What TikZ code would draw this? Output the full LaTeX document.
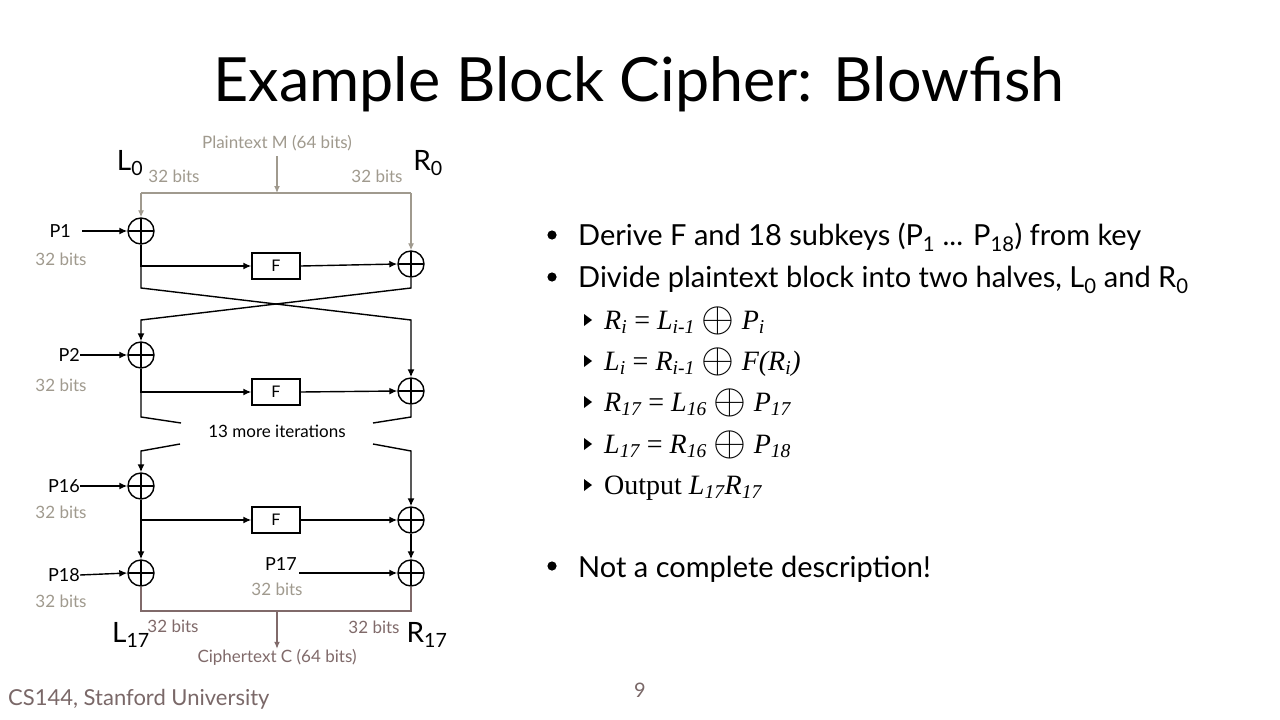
\documentclass[tikz,border=0pt]{standalone}
\usepackage{graphicx}
\usepackage{fontspec}
\setmainfont{Lato}
\newfontfamily\tms{Liberation Serif}
\usetikzlibrary{arrows.meta}
\definecolor{graytxt}{HTML}{A09A8E}
\definecolor{mauve}{HTML}{806A6A}
\definecolor{foot}{HTML}{7A6868}
\newcommand{\xsub}[1]{\textsubscript{#1}}
\newcommand{\opl}{\raisebox{-0.1em}{\scalebox{1.7}{$\oplus$}}}
\begin{document}
\begin{tikzpicture}[x=1pt,y=-1pt,
  every node/.style={inner sep=0pt},
  wire/.style={line width=1.4pt,black},
  arr/.style={wire,-{Latex[length=8pt,width=7pt]}},
  gwire/.style={line width=1.2pt,graytxt},
  garr/.style={gwire,-{Latex[length=7pt,width=6pt]}},
  mwire/.style={line width=1.2pt,mauve},
  marr/.style={mwire,-{Latex[length=7pt,width=6pt]}},
  xorc/.style={circle,draw,line width=1.4pt,minimum size=26pt,
    path picture={\draw[line width=1.4pt]
      (path picture bounding box.north) -- (path picture bounding box.south)
      (path picture bounding box.west) -- (path picture bounding box.east);}},
  fbox/.style={draw,line width=1.4pt,minimum width=48pt,minimum height=26pt,font=\fontsize{16}{16}\selectfont},
  key/.style={font=\fontsize{18}{18}\selectfont},
  bits/.style={font=\fontsize{17}{17}\selectfont,text=graytxt},
  mbits/.style={font=\fontsize{17}{17}\selectfont,text=mauve},
  half/.style={font=\fontsize{28}{28}\selectfont},
  bul/.style={anchor=base west,font=\fontsize{29}{29}\selectfont},
  sub/.style={anchor=base west,font=\tms\fontsize{28}{28}\selectfont},
]
\useasboundingbox (0,0) rectangle (1280,720);
\fill[white] (0,0) rectangle (1280,720);

% title
\node[font=\fontsize{61}{61}\selectfont] (title) at (639,84) {Example Block Cipher: Blowfish};

% ---------- round structure ----------
\node[xorc] (xl1) at (141,231) {};
\node[xorc] (xr1) at (411,264) {};
\node[fbox] (f1) at (276,266) {F};
\node[xorc] (xl2) at (141,355) {};
\node[xorc] (xr2) at (411,391) {};
\node[fbox] (f2) at (276,392) {F};
\node[xorc] (xl3) at (141,486) {};
\node[xorc] (xr3) at (411,520) {};
\node[fbox] (f3) at (276,520) {F};
\node[xorc] (xl4) at (141,573) {};
\node[xorc] (xr4) at (411,573) {};

% subkeys
\node[key,anchor=east] (p1) at (71,231) {P1};
\node[bits] (b1) at (61,259) {32 bits};
\node[key,anchor=east] (p2) at (80,355) {P2};
\node[bits] (b2) at (61,385) {32 bits};
\node[key,anchor=east] (p16) at (80,486) {P16};
\node[bits] (b16) at (61,512) {32 bits};
\node[key,anchor=east] (p18) at (80,575) {P18};
\node[bits] (b18) at (61,601) {32 bits};
\node[key,anchor=east] (p17) at (297,564) {P17};
\node[bits] (b17) at (277,589) {32 bits};

\draw[arr] (82,231) -- (xl1.west);
\draw[arr] (p2.east) -- (xl2.west);
\draw[arr] (p16.east) -- (xl3.west);
\draw[arr] (p18.east) -- (xl4.west);
\draw[arr] (299,573) -- (xr4.west);

% plaintext input
\node[font=\fontsize{17}{17}\selectfont,text=graytxt] (pt) at (277,143) {Plaintext M (64 bits)};
\node[half] (l0) at (130,163) {L\xsub{0}};
\node[half] (r0) at (428,163) {R\xsub{0}};
\node[bits] (bl0) at (174,176) {32 bits};
\node[bits] (br0) at (377,176) {32 bits};
\coordinate (split) at (277,193);
\draw[garr] (pt.south) ++(0,5) -- (split);
\draw[gwire] (141,193) -- (411,193);
\draw[garr] (141,193) -- (xl1.north);
\draw[garr] (411,193) -- (xr1.north);

% round 1
\draw[arr] (xl1.south) |- (f1.west);
\draw[arr] (f1.east) -- (xr1.west);
\coordinate (c1l) at (141,288);
\coordinate (c1r) at (411,288);
\coordinate (c2l) at (141,320);
\coordinate (c2r) at (411,320);
\draw[arr] (xl1.south) -- (c1l) -- (c2r) -- (xr2.north);
\draw[arr] (xr1.south) -- (c1r) -- (c2l) -- (xl2.north);

% round 2
\draw[arr] (xl2.south) |- (f2.west);
\draw[arr] (f2.east) -- (xr2.west);
\coordinate (d1l) at (181,423);
\coordinate (d1r) at (373,423);
\draw[wire] (xl2.south) -- (141,417) -- (d1l);
\draw[wire] (xr2.south) -- (411,417) -- (d1r);
\node[font=\fontsize{17}{17}\selectfont] (more) at (277,431) {13 more iterations};
\coordinate (d2l) at (180,444);
\coordinate (d2r) at (373,444);
\draw[arr] (d2l) -- (141,451) -- (xl3.north);
\draw[arr] (d2r) -- (411,451) -- (xr3.north);

% round 16
\draw[arr] (xl3.south) |- (f3.west);
\draw[arr] (f3.east) -- (xr3.west);
\draw[arr] (xl3.south) -- (xl4.north);
\draw[arr] (xr3.south) -- (xr4.north);

% ciphertext output
\coordinate (join) at (277,611);
\draw[mwire] (xl4.south) -- (141,611) -- (411,611) -- (xr4.south);
\node[font=\fontsize{17}{17}\selectfont,text=mauve] (ct) at (277,657) {Ciphertext C (64 bits)};
\draw[marr] (join) -- (ct.north);
\node[half] (l17) at (131,635) {L\xsub{17}};
\node[half] (r17) at (427,635) {R\xsub{17}};
\node[mbits] (bl17) at (173,626) {32 bits};
\node[mbits] (br17) at (374,627) {32 bits};

% ---------- bullet text ----------
\node[bul] (t1) at (578,245) {Derive F and 18 subkeys (P\xsub{1} ... P\xsub{18}) from key};
\node[bul] (t2) at (578,287) {Divide plaintext block into two halves, L\xsub{0} and R\xsub{0}};
\node[bul] (t3) at (578,577) {Not a complete description!};
\foreach \yy in {235,277,566} \fill (552,\yy) circle (4.6pt);

\node[sub] (s1) at (604,329) {\itshape R\xsub{i} \upshape= \itshape L\xsub{i-1} \opl{} P\xsub{i}};
\node[sub] (s2) at (604,370) {\itshape L\xsub{i} \upshape= \itshape R\xsub{i-1} \opl{} F(R\xsub{i})};
\node[sub] (s3) at (604,411) {\itshape R\xsub{17} \upshape= \itshape L\xsub{16} \opl{} P\xsub{17}};
\node[sub] (s4) at (604,453) {\itshape L\xsub{17} \upshape= \itshape R\xsub{16} \opl{} P\xsub{18}};
\node[sub] (s5) at (604,494) {Output \itshape L\xsub{17}R\xsub{17}};
\foreach \yy in {320,361,402,444,485}
  \fill (584,\yy-6) -- (592,\yy) -- (584,\yy+6) -- cycle;

% footer
\node[anchor=base west,font=\fontsize{22}{22}\selectfont,text=foot] (foot) at (8,705) {CS144, Stanford University};
\node[font=\fontsize{20}{20}\selectfont,text=foot] (pg) at (640,690) {9};
\end{tikzpicture}
\end{document}
